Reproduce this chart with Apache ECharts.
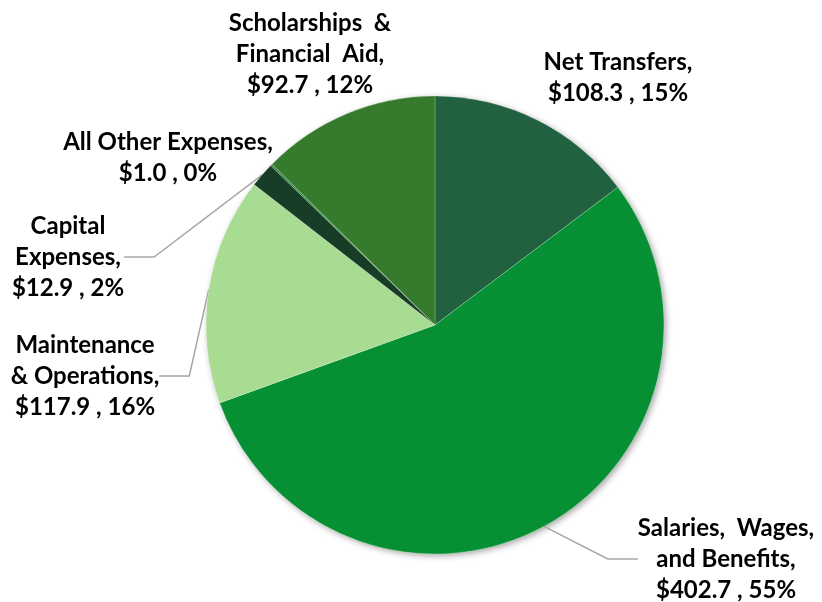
<!DOCTYPE html>
<html>
<head>
<meta charset="utf-8">
<script src="https://cdn.jsdelivr.net/npm/echarts@6/dist/echarts.min.js"></script>
<style>
  html, body { margin: 0; padding: 0; background: #fff; }
  #expenseChart { width: 822px; height: 602px; }
</style>
</head>
<body>
<div id="expenseChart"></div>
<script>
// categories in clockwise order starting at 12 o'clock
const categories = [
  'Net Transfers',
  'Salaries,  Wages,\nand Benefits',
  'Maintenance\n& Operations',
  'Capital\nExpenses',
  'All Other Expenses',
  'Scholarships  &\nFinancial  Aid'
];
const amounts = [108.3, 402.7, 117.9, 12.9, 1.0, 92.7];
const shownPercents = [15, 55, 16, 2, 0, 12];
const colors = ['#216140', '#078f34', '#a9dc93', '#173d26', '#2c8a3c', '#357a2d'];

// where each label block sits (center of the text)
const labelSpots = [
  { x: 618, y: 78 },
  { x: 726, y: 559 },
  { x: 85, y: 376 },
  { x: 68, y: 257 },
  { x: 168, y: 158 },
  { x: 310, y: 54 }
];
const showLine = [false, true, true, true, false, false];

const chart = echarts.init(document.getElementById('expenseChart'));

const total = amounts.reduce((a, b) => a + b, 0);

const option = {
  animation: false,
  textStyle: { fontFamily: 'Lato' },
  series: [
    {
      // plain disc behind the slices, only for the soft shadow
      type: 'pie',
      silent: true,
      center: [435, 325],
      radius: 229,
      z: 1,
      label: { show: false },
      labelLine: { show: false },
      itemStyle: {
        color: '#ffffff',
        shadowBlur: 6,
        shadowOffsetX: 2,
        shadowOffsetY: 2,
        shadowColor: 'rgba(0,0,0,0.35)'
      },
      data: [{ value: total, name: 'bg' }]
    },
    {
      name: 'Expenses',
      type: 'pie',
      center: [435, 325],
      radius: 229,
      startAngle: 90,
      clockwise: true,
      z: 2,
      avoidLabelOverlap: false,
      itemStyle: {
        borderColor: 'rgba(255,255,255,0.35)',
        borderWidth: 0.6
      },
      label: {
        show: true,
        color: '#000',
        fontFamily: 'Lato',
        fontWeight: 'bold',
        fontSize: 24,
        lineHeight: 31,
        align: 'center',
        formatter: (p) => p.name + ',\n$' + p.value.toFixed(1) + ' , ' + shownPercents[p.dataIndex] + '%'
      },
      labelLine: {
        lineStyle: { color: '#a6a6a6', width: 1.5 }
      },
      labelLayout: (params) => {
        const s = labelSpots[params.dataIndex];
        return { x: s.x, y: s.y, align: 'center', verticalAlign: 'middle' };
      },
      data: categories.map((name, i) => ({
        name: name,
        value: amounts[i],
        itemStyle: { color: colors[i] },
        labelLine: { show: showLine[i] }
      }))
    }
  ]
};

option && chart.setOption(option);
</script>
</body>
</html>
